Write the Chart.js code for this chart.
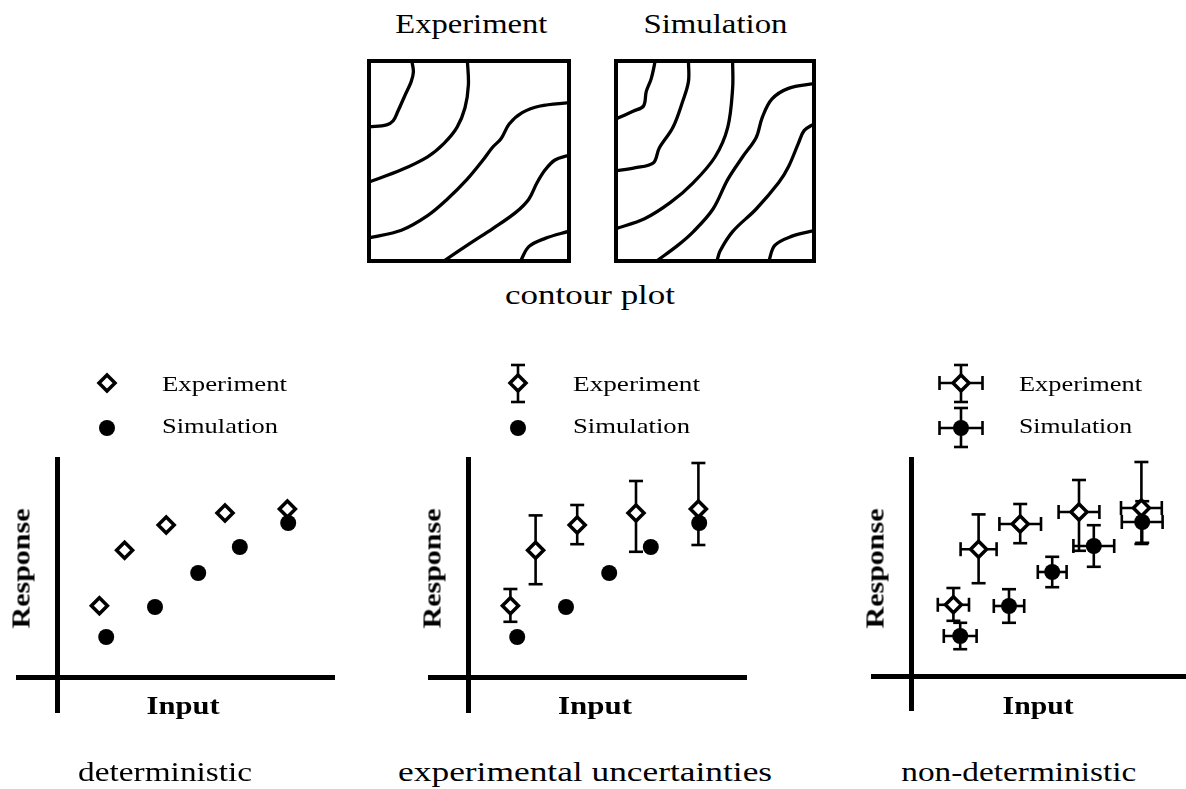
<!DOCTYPE html>
<html>
<head>
<meta charset="utf-8">
<script src="https://cdn.jsdelivr.net/npm/chart.js@4/dist/chart.umd.min.js"></script>
<style>
  html, body { margin: 0; padding: 0; background: #fff; }
  #page { position: relative; width: 1186px; height: 789px; overflow: hidden; background: #fff; }
  #page canvas { position: absolute; }
  .t { position: absolute; white-space: nowrap; color: #000; line-height: 1;
       font-family: "Liberation Serif", "Times New Roman", serif; }
</style>
</head>
<body>
<div id="page"></div>
<script>
// ---------- data ----------
// Contour lines (x, y in percent of the field), measured field
const expContourA = [[21.4,100],[22.2,94.6],[21.1,89.7],[17.8,82.4],[14.5,75],[12.1,70.1],[8.8,68.1],[0,67]];
const expContourB = [[49.2,100],[49.7,88.1],[48,76.6],[44,66.8],[37.4,58.7],[29.3,52.1],[16.2,45.6],[0,39.5]];
const expContourC = [[100,79.2],[85.6,77.5],[76.6,74.2],[70.1,68.5],[66,61.1],[61.9,57],[57,50.5],[48.9,40.7],[39.1,30.9],[29.3,22.7],[16.2,15.4],[0,11.6]];
const expContourD = [[100,52.9],[93,50.5],[88.1,45.6],[84,39.1],[79.9,30.9],[73.4,24.3],[61.9,16.2],[50.5,8.8],[37.4,0]];
const expContourE = [[100,14.9],[88.1,11.3],[79.9,7.2],[75.8,0]];

// Contour lines, simulated field
const simContourA = [[19.8,100],[17.8,91.2],[15.3,84.8],[13.9,77.5],[8.9,75],[0,71]];
const simContourB = [[36.6,100],[36.6,89.7],[33.7,79.9],[28.7,66.7],[21.8,56.4],[18.8,49],[9.4,46.6],[0,45.1]];
const simContourC = [[58.9,100],[58.9,86.3],[56.4,66.7],[50,52],[39.1,39.2],[27.7,29.4],[14.4,21.1],[0,16.2]];
const simContourD = [[100,88.7],[87.1,86.3],[78.7,80.9],[73.8,71.6],[70.8,61.8],[63.9,52],[56.4,40.7],[49,26],[39.1,14.7],[31.2,7.8],[20.5,0]];
const simContourE = [[100,68.6],[95,65.2],[92.1,58.8],[87.1,47.1],[82.2,39.2],[70.8,26],[58.9,14.7],[52.5,4.9],[51,0]];
const simContourF = [[100,15.2],[88.6,12.3],[80.2,7.8],[77.2,0]];

// Input / response pairs
const inputExp    = [1.06, 1.69, 2.73, 4.20, 5.76];
const responseExp = [1.78, 3.17, 3.80, 4.10, 4.20];
const inputSim    = [1.23, 2.45, 3.53, 4.57, 5.78];
const responseSim = [1.00, 1.75, 2.60, 3.25, 3.85];

// Uncertainties
const expErrUp   = [0.42, 0.87, 0.50, 0.80, 1.15];
const expErrDown = [0.40, 0.85, 0.48, 0.97, 0.90];
const expErrX    = [0.39, 0.45, 0.52, 0.51, 0.51];
const simErrX    = [0.41, 0.38, 0.36, 0.51, 0.51];
const simErrY    = [0.33, 0.42, 0.38, 0.52, 0.52];

// Labels
const fieldTitles   = ['Experiment', 'Simulation'];
const fieldCaption  = 'contour plot';
const seriesLabels  = ['Experiment', 'Simulation'];
const axisTitles    = ['Input', 'Response'];
const panelCaptions = ['deterministic', 'experimental uncertainties', 'non-deterministic'];

// ---------- layout ----------
const page = document.getElementById('page');

function makeCanvas(left, top, w, h) {
  const c = document.createElement('canvas');
  c.width = w; c.height = h;
  c.style.left = left + 'px'; c.style.top = top + 'px';
  c.style.width = w + 'px'; c.style.height = h + 'px';
  page.appendChild(c);
  return c;
}

const framePlugin = {
  id: 'frame',
  afterDatasetsDraw(chart) {
    const a = chart.chartArea, ctx = chart.ctx;
    ctx.save();
    ctx.strokeStyle = '#000';
    ctx.lineWidth = 4;
    ctx.lineJoin = 'miter';
    ctx.strokeRect(a.left, a.top, a.right - a.left, a.bottom - a.top);
    ctx.restore();
  }
};

function contourChart(canvasLeft, area, lines) {
  const cTop = 52, cW = 220, cH = 220;
  const cv = makeCanvas(canvasLeft, cTop, cW, cH);
  return new Chart(cv, {
    type: 'scatter',
    data: {
      datasets: lines.map(pts => ({
        data: pts.map(p => ({ x: p[0], y: p[1] })),
        showLine: true,
        borderColor: '#000',
        borderWidth: 3.3,
        pointRadius: 0,
        tension: 0.35,
        fill: false
      }))
    },
    options: {
      responsive: false,
      animation: false,
      events: [],
      layout: {
        autoPadding: false,
        padding: {
          left: area.left - canvasLeft,
          right: canvasLeft + cW - area.right,
          top: area.top - cTop,
          bottom: cTop + cH - area.bottom
        }
      },
      plugins: { legend: { display: false }, tooltip: { enabled: false } },
      scales: {
        x: { type: 'linear', min: 0, max: 100, display: false },
        y: { type: 'linear', min: 0, max: 100, display: false }
      }
    },
    plugins: [framePlugin]
  });
}

contourChart(360, { left: 369, right: 569, top: 61, bottom: 261 },
  [expContourA, expContourB, expContourC, expContourD, expContourE]);
contourChart(606, { left: 616, right: 814, top: 61, bottom: 261 },
  [simContourA, simContourB, simContourC, simContourD, simContourE, simContourF]);

// ---------- scatter panels ----------
const U = 40;               // pixels per data unit
const CANVAS_TOP = 340, CANVAS_H = 400;
const CAP = 7;              // half length of error bar caps
const MARK_R = 8;

const panels = [
  { left: 0,   width: 360, axisLeft: 18,  axisRight: 334,  originX: 57,  originY: 677, axisTop: 459, axisBottom: 712, xErr: false, yErr: false },
  { left: 400, width: 360, axisLeft: 430, axisRight: 746,  originX: 468, originY: 677, axisTop: 459, axisBottom: 712, xErr: false, yErr: true },
  { left: 840, width: 346, axisLeft: 873, axisRight: 1185, originX: 911, originY: 676, axisTop: 459, axisBottom: 710, xErr: true,  yErr: true }
];

function hLine(ctx, x1, x2, y) { ctx.beginPath(); ctx.moveTo(x1, y); ctx.lineTo(x2, y); ctx.stroke(); }
function vLine(ctx, x, y1, y2) { ctx.beginPath(); ctx.moveTo(x, y1); ctx.lineTo(x, y2); ctx.stroke(); }

function drawErr(ctx, x, y, up, down, left, right) {
  if (up !== null) {
    vLine(ctx, x, up, down);
    hLine(ctx, x - CAP, x + CAP, up);
    hLine(ctx, x - CAP, x + CAP, down);
  }
  if (left !== null) {
    hLine(ctx, left, right, y);
    vLine(ctx, left, y - CAP, y + CAP);
    vLine(ctx, right, y - CAP, y + CAP);
  }
}

function diamond(ctx, x, y) {
  ctx.save();
  ctx.beginPath();
  ctx.moveTo(x, y - MARK_R); ctx.lineTo(x + MARK_R, y);
  ctx.lineTo(x, y + MARK_R); ctx.lineTo(x - MARK_R, y);
  ctx.closePath();
  ctx.fillStyle = '#fff'; ctx.fill();
  ctx.strokeStyle = '#000'; ctx.lineWidth = 3.5; ctx.lineJoin = 'miter'; ctx.stroke();
  ctx.restore();
}
function dot(ctx, x, y) {
  ctx.save();
  ctx.beginPath(); ctx.arc(x, y, MARK_R, 0, Math.PI * 2);
  ctx.fillStyle = '#000'; ctx.fill();
  ctx.restore();
}

const errorBarPlugin = {
  id: 'errorBars',
  beforeDatasetsDraw(chart) {
    const ctx = chart.ctx, xS = chart.scales.x, yS = chart.scales.y;
    ctx.save();
    ctx.strokeStyle = '#000';
    ctx.lineWidth = 2.6;
    ctx.lineCap = 'butt';
    chart.data.datasets.forEach(ds => {
      ds.data.forEach((pt, j) => {
        const px = xS.getPixelForValue(pt.x), py = yS.getPixelForValue(pt.y);
        const up = ds.errUp ? yS.getPixelForValue(pt.y + ds.errUp[j]) : null;
        const down = ds.errDown ? yS.getPixelForValue(pt.y - ds.errDown[j]) : null;
        const l = ds.errX ? xS.getPixelForValue(pt.x - ds.errX[j]) : null;
        const r = ds.errX ? xS.getPixelForValue(pt.x + ds.errX[j]) : null;
        drawErr(ctx, px, py, up, down, l, r);
      });
    });
    ctx.restore();
  }
};

// key with the marker glyphs of each panel
const keyPlugin = {
  id: 'key',
  afterDraw(chart, args, opts) {
    const ctx = chart.ctx;
    const x = chart.scales.x.getPixelForValue(0) + 50;
    const yExp = 383 - CANVAS_TOP, ySim = 428 - CANVAS_TOP;
    ctx.save();
    ctx.strokeStyle = '#000';
    ctx.lineWidth = 2.6;
    if (opts.yErr) drawErr(ctx, x, yExp, yExp - 18, yExp + 19, opts.xErr ? x - 21.5 : null, x + 21.5);
    if (opts.xErr) drawErr(ctx, x, ySim, ySim - 20, ySim + 19, x - 21.5, x + 21.5);
    ctx.restore();
    diamond(ctx, x, yExp);
    dot(ctx, x, ySim);
  }
};

panels.forEach(p => {
  const cv = makeCanvas(p.left, CANVAS_TOP, p.width, CANVAS_H);
  const hidden = { grid: { display: false, drawTicks: false }, ticks: { display: false } };
  new Chart(cv, {
    type: 'scatter',
    data: {
      datasets: [
        {
          label: seriesLabels[1],
          data: inputSim.map((x, i) => ({ x: x, y: responseSim[i] })),
          pointStyle: 'circle',
          pointRadius: MARK_R,
          pointBackgroundColor: '#000',
          pointBorderWidth: 0,
          errX: p.xErr ? simErrX : null,
          errUp: p.xErr ? simErrY : null,
          errDown: p.xErr ? simErrY : null
        },
        {
          label: seriesLabels[0],
          data: inputExp.map((x, i) => ({ x: x, y: responseExp[i] })),
          pointStyle: 'rectRot',
          pointRadius: MARK_R,
          pointBackgroundColor: '#fff',
          pointBorderColor: '#000',
          pointBorderWidth: 3.5,
          errX: p.xErr ? expErrX : null,
          errUp: p.yErr ? expErrUp : null,
          errDown: p.yErr ? expErrDown : null
        }
      ]
    },
    options: {
      responsive: false,
      animation: false,
      events: [],
      layout: {
        autoPadding: false,
        padding: {
          left: p.axisLeft - p.left,
          right: p.left + p.width - p.axisRight,
          top: p.axisTop - CANVAS_TOP,
          bottom: CANVAS_TOP + CANVAS_H - p.axisBottom
        }
      },
      plugins: {
        legend: { display: false },
        tooltip: { enabled: false },
        key: { xErr: p.xErr, yErr: p.yErr }
      },
      scales: {
        x: Object.assign({
          type: 'linear',
          min: -(p.originX - p.axisLeft) / U,
          max: (p.axisRight - p.originX) / U,
          position: { y: 0 },
          border: { display: true, color: '#000', width: 5 }
        }, hidden),
        y: Object.assign({
          type: 'linear',
          min: -(p.axisBottom - p.originY) / U,
          max: (p.originY - p.axisTop) / U,
          position: { x: 0 },
          border: { display: true, color: '#000', width: 5 }
        }, hidden)
      }
    },
    plugins: [errorBarPlugin, keyPlugin]
  });
});

// ---------- text ----------
// baseline sits at 0.8375em below the top of a line-height:1 box in Liberation Serif
function addText(str, o) {
  const el = document.createElement('span');
  el.className = 't';
  el.textContent = str;
  el.style.fontSize = o.size + 'px';
  el.style.fontWeight = o.bold ? 'bold' : 'normal';
  page.appendChild(el);
  const natural = el.getBoundingClientRect().width;
  const s = o.width ? o.width / natural : 1;
  if (o.rotate) {
    const cx = o.x - 0.3375 * o.size;
    el.style.left = (cx - natural / 2) + 'px';
    el.style.top = (o.y - o.size / 2) + 'px';
    el.style.transformOrigin = '50% 50%';
    el.style.transform = 'rotate(-90deg) scaleX(' + s + ')';
    return;
  }
  el.style.top = (o.y - 0.8375 * o.size) + 'px';
  if (o.align === 'left') {
    el.style.left = o.x + 'px';
    el.style.transformOrigin = '0 50%';
  } else {
    el.style.left = (o.x - natural / 2) + 'px';
    el.style.transformOrigin = '50% 50%';
  }
  el.style.transform = 'scaleX(' + s + ')';
}

addText(fieldTitles[0], { x: 471, y: 33, size: 28, width: 152 });
addText(fieldTitles[1], { x: 715, y: 33, size: 28, width: 144 });
addText(fieldCaption,   { x: 590, y: 304, size: 28, width: 170 });

const keyTextX = [162, 573, 1019];
const keyWidths = [[125, 116], [127, 117], [123, 113]];
const inputX = [183.5, 595, 1038];
const inputW = [73, 74, 71];
const responseX = [29, 440, 883];
const captionX = [165, 585, 1019];
const captionW = [174, 374, 235];

for (let k = 0; k < 3; k++) {
  addText(seriesLabels[0], { x: keyTextX[k], y: 391, size: 22, width: keyWidths[k][0], align: 'left' });
  addText(seriesLabels[1], { x: keyTextX[k], y: 433, size: 22, width: keyWidths[k][1], align: 'left' });
  addText(axisTitles[0], { x: inputX[k], y: 715, size: 26, bold: true, width: inputW[k] });
  addText(axisTitles[1], { x: responseX[k], y: 568, size: 25, bold: true, width: 120, rotate: true });
  addText(panelCaptions[k], { x: captionX[k], y: 781, size: 28, width: captionW[k] });
}
</script>
</body>
</html>
